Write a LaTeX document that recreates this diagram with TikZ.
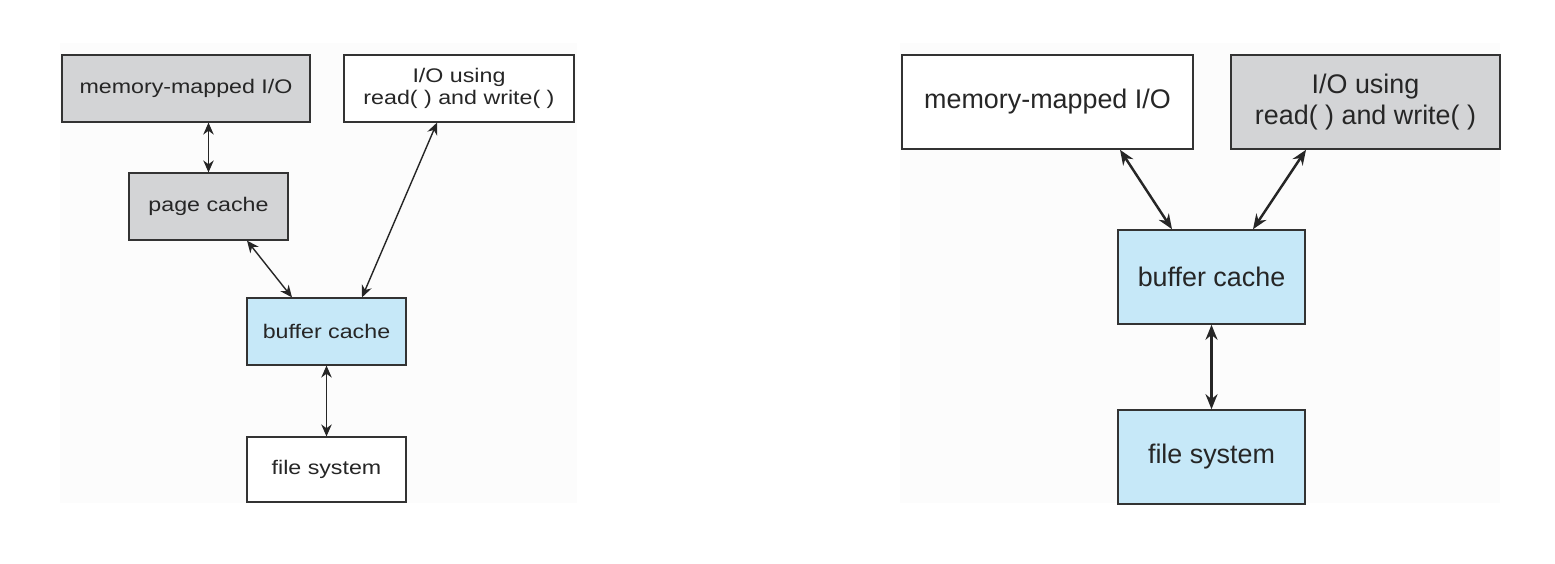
\documentclass[tikz,border=0pt]{standalone}
\usepackage{fontspec}
\setmainfont{Liberation Sans}
\newfontfamily\widesans[FakeStretch=1.18]{Liberation Sans}
\usetikzlibrary{arrows.meta,positioning}
\definecolor{boxgray}{HTML}{D3D4D6}
\definecolor{boxblue}{HTML}{C6E8F8}
\definecolor{edgegray}{HTML}{333333}
\definecolor{panelbg}{HTML}{FCFCFC}

\begin{document}
\begin{tikzpicture}[box/.style={draw=edgegray,line width=0.7pt,inner sep=2pt,align=center,text=black!85,
  font=\widesans\fontsize{11.2}{12.7}\selectfont,minimum height=1.34cm},
bigbox/.style={box,line width=0.9pt,font=\fontsize{15.3}{17.6}\selectfont,minimum height=1.88cm},
ref/.style={{Stealth[length=2.4mm,width=2.1mm]}-{Stealth[length=2.4mm,width=2.1mm]},line width=0.8pt,black!85},
bigref/.style={{Stealth[length=3mm,width=2.4mm]}-{Stealth[length=3mm,width=2.4mm]},line width=1.4pt,black!85}]
\useasboundingbox (0,0) rectangle (31.1,11.26);
\fill[panelbg] (1.2,1.2) rectangle (11.54,10.4);
\fill[panelbg] (18.0,1.2) rectangle (30.0,10.4);
% page cache on top of buffer cache
\node[box,fill=boxgray,minimum width=4.96cm] (mem) at (3.72,9.49) {memory-mapped I/O};
\node[box,fill=white,minimum width=4.6cm] (io) at (9.18,9.49) {I/O using\\read( ) and write( )};
\node[box,fill=boxgray,minimum width=3.18cm] (page) at (4.17,7.13) {page cache};
\node[box,fill=boxblue,minimum width=3.18cm] (buf) at (6.53,4.63) {buffer cache};
\node[box,fill=white,minimum width=3.18cm,minimum height=1.3cm] (fs) at (6.53,1.87) {file system};
\draw[ref] (page.north) -- (page.north |- mem.south);
\draw[ref] ([xshift=0.77cm]page.south) -- ([xshift=-0.69cm]buf.north);
\draw[ref] ([xshift=-0.44cm]io.south) -- ([xshift=0.71cm]buf.north);
\draw[ref] (buf.south) -- (fs.north);
% unified buffer cache
\node[bigbox,fill=white,minimum width=5.82cm] (rmem) at (20.95,9.22) {memory-mapped I/O};
\node[bigbox,fill=boxgray,minimum width=5.38cm] (rio) at (27.31,9.22) {I/O using\\read( ) and write( )};
\node[bigbox,fill=boxblue,minimum width=3.74cm] (rbuf) at (24.23,5.72) {buffer cache};
\node[bigbox,fill=boxblue,minimum width=3.74cm] (rfs) at (24.23,2.12) {file system};
\draw[bigref] ([xshift=1.45cm]rmem.south) -- ([xshift=-0.79cm]rbuf.north);
\draw[bigref] ([xshift=-1.19cm]rio.south) -- ([xshift=0.83cm]rbuf.north);
\draw[bigref] (rbuf.south) -- (rfs.north);
\end{tikzpicture}
\end{document}
